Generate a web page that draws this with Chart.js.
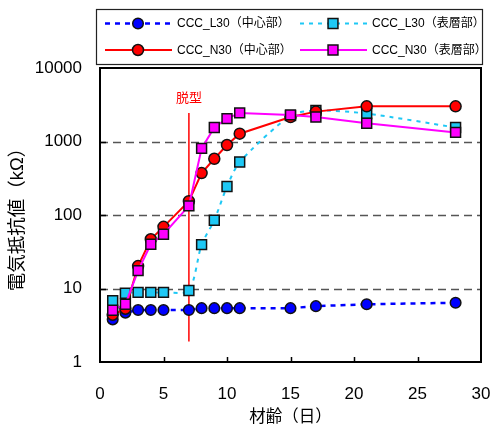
<!DOCTYPE html>
<html>
<head>
<meta charset="utf-8">
<script src="https://cdn.jsdelivr.net/npm/chart.js@4.4.1/dist/chart.umd.min.js"></script>
<style>
  html, body { margin: 0; padding: 0; background: #fff; overflow: hidden; }
  canvas { display: block; }
</style>
</head>
<body>
<canvas id="c" width="492" height="429"></canvas>
<script>
// Material age (days) and measured electrical resistance (kΩ)
const days       = [1, 2, 3, 4, 5, 7, 8, 9, 10, 11, 15, 17, 21, 28];
const l30Core    = [3.8, 4.7, 5.1, 5.1, 5.1, 5.1, 5.4, 5.4, 5.4, 5.4, 5.4, 5.75, 6.1, 6.4];
const l30Surface = [6.8, 8.6, 8.85, 8.85, 8.85, 9.4, 39.5, 85, 244, 526, 2250, 2650, 2400, 1550];
const n30Core    = [4.4, 5.3, 20.2, 46.8, 69, 154, 372, 582, 895, 1277, 2150, 2550, 3010, 3010];
const n30Surface = [5.07, 6.1, 17.5, 40, 54.7, 133, 805, 1550, 2047, 2448, 2300, 2150, 1770, 1330];
const seriesNames = ['CCC_L30（中心部）', 'CCC_L30（表層部）', 'CCC_N30（中心部）', 'CCC_N30（表層部）'];

// Demolding marker
const demoldDay   = 7;
const demoldSpan  = [1.9, 2450];
const demoldLabel = '脱型';

// Axes
const xTicks = [0, 5, 10, 15, 20, 25, 30];
const yTicks = [1, 10, 100, 1000, 10000];
const xTitle = '材齢（日）';
const yTitle = '電気抵抗値（kΩ）';

const FONT = '"Liberation Sans", Arial, "Noto Sans CJK JP", sans-serif';
Chart.defaults.font.family = FONT;
Chart.defaults.color = '#000';

const pts = vals => days.map((d, i) => ({ x: d, y: vals[i] }));

function drawMarker(ctx, style, r, x, y, fill) {
  ctx.save();
  ctx.setLineDash([]);
  ctx.fillStyle = fill;
  ctx.strokeStyle = '#111';
  ctx.lineWidth = 1.5;
  ctx.beginPath();
  if (style === 'rect') {
    const s = r * Math.SQRT1_2;
    ctx.rect(x - s, y - s, 2 * s, 2 * s);
  } else {
    ctx.arc(x, y, r, 0, Math.PI * 2);
  }
  ctx.fill();
  ctx.stroke();
  ctx.restore();
}

// Dashed reference lines, frame, inward ticks and the demolding label
const framePlugin = {
  id: 'framePlugin',
  beforeDatasetsDraw(chart) {
    const { ctx, chartArea: a, scales: { y } } = chart;
    ctx.save();
    ctx.strokeStyle = '#555';
    ctx.lineWidth = 1.5;
    ctx.setLineDash([8, 5]);
    yTicks.slice(1, -1).forEach(v => {
      const py = Math.round(y.getPixelForValue(v)) + 0.5;
      ctx.beginPath();
      ctx.moveTo(a.left, py);
      ctx.lineTo(a.right, py);
      ctx.stroke();
    });
    ctx.restore();
  },
  afterDatasetsDraw(chart) {
    const { ctx, chartArea: a, scales: { x, y } } = chart;
    ctx.save();
    ctx.strokeStyle = '#000';
    ctx.lineWidth = 2;
    ctx.setLineDash([]);
    ctx.strokeRect(a.left, a.top, a.right - a.left, a.bottom - a.top);
    ctx.lineWidth = 1.5;
    xTicks.slice(1, -1).forEach(v => {
      const px = Math.round(x.getPixelForValue(v)) + 0.5;
      ctx.beginPath();
      ctx.moveTo(px, a.bottom);
      ctx.lineTo(px, a.bottom - 5);
      ctx.stroke();
    });
    yTicks.slice(1, -1).forEach(v => {
      const py = Math.round(y.getPixelForValue(v)) + 0.5;
      ctx.beginPath();
      ctx.moveTo(a.left, py);
      ctx.lineTo(a.left + 6, py);
      ctx.stroke();
    });
    // demolding label
    ctx.fillStyle = '#ff0000';
    ctx.font = '13px ' + FONT;
    ctx.textAlign = 'center';
    ctx.textBaseline = 'middle';
    ctx.fillText(demoldLabel, x.getPixelForValue(demoldDay), y.getPixelForValue(demoldSpan[1]) - 14);
    ctx.restore();
  }
};

// Boxed two-column legend above the plot
const legendPlugin = {
  id: 'legendPlugin',
  afterDraw(chart) {
    const { ctx } = chart;
    const box = { l: 96, t: 9, r: 482, b: 64 };
    ctx.save();
    ctx.strokeStyle = '#222';
    ctx.lineWidth = 1.2;
    ctx.strokeRect(box.l + 0.5, box.t + 0.5, box.r - box.l, box.b - box.t);
    const cols = [105, 300];
    const rows = [23.5, 50];
    chart.data.datasets.slice(0, 4).forEach((ds, i) => {
      const cx = cols[i % 2];
      const cy = rows[Math.floor(i / 2)];
      ctx.strokeStyle = ds.borderColor;
      ctx.lineWidth = ds.borderWidth;
      ctx.setLineDash(ds.borderDash || []);
      ctx.beginPath();
      ctx.moveTo(cx, cy);
      ctx.lineTo(cx + 67, cy);
      ctx.stroke();
      drawMarker(ctx, ds.pointStyle, ds.pointRadius, cx + 33, cy, ds.pointBackgroundColor);
      ctx.fillStyle = '#000';
      ctx.font = '12px ' + FONT;
      ctx.textAlign = 'left';
      ctx.textBaseline = 'middle';
      ctx.fillText(ds.label, cx + 72, cy + 0.5);
    });
    ctx.restore();
  }
};

const mk = (label, vals, color, style, r, dash, width, order, tension) => ({
  label,
  data: pts(vals),
  borderColor: color,
  borderWidth: width,
  borderDash: dash,
  pointStyle: style,
  pointRadius: r,
  pointHoverRadius: r,
  pointBackgroundColor: color,
  pointBorderColor: '#111',
  pointBorderWidth: 1.5,
  tension: tension,
  order
});

new Chart(document.getElementById('c'), {
  type: 'line',
  data: {
    datasets: [
      mk(seriesNames[0], l30Core,    '#0000ff', 'circle', 5.3, [5, 5], 2.5, 4, 0),
      mk(seriesNames[1], l30Surface, '#1ec8f5', 'rect',   7,   [4, 5], 2,   3, 0.25),
      mk(seriesNames[2], n30Core,    '#ff0000', 'circle', 5.5, [],     2,   2, 0),
      mk(seriesNames[3], n30Surface, '#ff00ff', 'rect',   7,   [],     2,   1, 0),
      {
        label: demoldLabel,
        data: demoldSpan.map(v => ({ x: demoldDay, y: v })),
        borderColor: '#ff0000',
        borderWidth: 1.5,
        pointRadius: 0,
        order: 5
      }
    ]
  },
  options: {
    responsive: false,
    animation: false,
    devicePixelRatio: 1,
    layout: { padding: { top: 68, right: 11, left: 0, bottom: 0 } },
    plugins: { legend: { display: false }, tooltip: { enabled: false } },
    scales: {
      x: {
        type: 'linear',
        min: 0, max: 30,
        afterBuildTicks: s => { s.ticks = xTicks.map(v => ({ value: v })); },
        afterFit: s => { s.height = 67; s.paddingLeft = 0; s.paddingRight = 0; },
        grid: { display: false, drawTicks: false },
        border: { display: false },
        ticks: { font: { size: 17 }, padding: 22, maxRotation: 0, autoSkip: false },
        title: { display: true, text: xTitle, font: { size: 16.5 }, padding: { top: 0, bottom: 2 } }
      },
      y: {
        type: 'logarithmic',
        min: 1, max: 10000,
        afterBuildTicks: s => { s.ticks = yTicks.map(v => ({ value: v })); },
        afterFit: s => { s.width = 100; s.paddingTop = 0; s.paddingBottom = 0; },
        grid: { display: false, drawTicks: false },
        border: { display: false },
        ticks: { font: { size: 17 }, padding: 18, autoSkip: false, callback: v => String(v) },
        title: { display: true, text: yTitle, font: { size: 18.5 }, padding: { top: 7, bottom: 0 } }
      }
    }
  },
  plugins: [framePlugin, legendPlugin]
});
</script>
</body>
</html>
